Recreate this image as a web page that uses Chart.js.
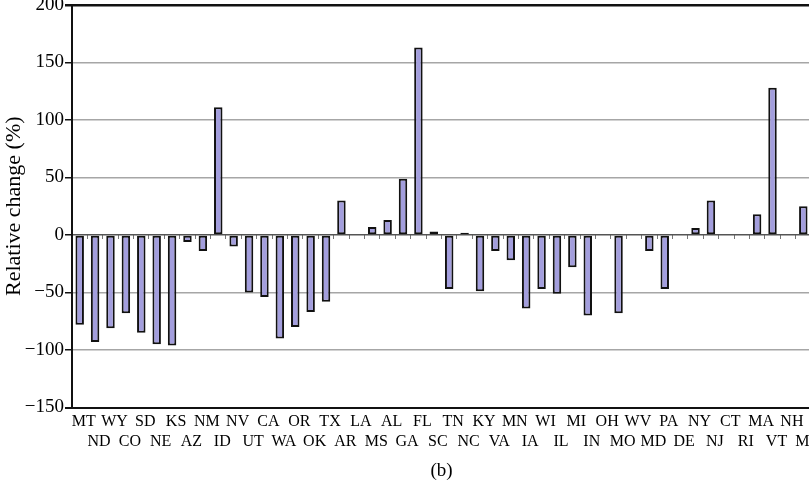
<!DOCTYPE html>
<html>
<head>
<meta charset="utf-8">
<script src="https://cdn.jsdelivr.net/npm/chart.js@4.4.1/dist/chart.umd.min.js"></script>
<style>
  html, body { margin: 0; padding: 0; background: #fff; overflow: hidden; width: 809px; height: 487px; }
  canvas { display: block; }
</style>
</head>
<body>
<canvas id="chart" width="830" height="487" style="width:830px;height:487px"></canvas>
<script>
// State abbreviations, in plotting order
const states = [
  'MT','ND','WY','CO','SD','NE','KS','AZ','NM','ID','NV','UT',
  'CA','WA','OR','OK','TX','AR','LA','MS','AL','GA','FL','SC',
  'TN','NC','KY','VA','MN','IA','WI','IL','MI','IN','OH','MO',
  'WV','MD','PA','DE','NY','NJ','CT','RI','MA','VT','NH','ME'
];

// Relative change (%) per state; null = no bar
const relativeChange = [
  -78, -93, -81, -68, -85, -95, -96, -6, -14, 111, -10, -50,
  -54, -90, -80, -67, -58, 30, null, 7, 13, 49, 163, 3,
  -47, 2, -49, -14, -22, -64, -47, -51, -28, -70, null, -68,
  null, -14, -47, null, 6, 30, null, null, 18, 128, null, 25
];

// Value axis range and tick spacing
const yMin = -150;
const yMax = 200;
const yStep = 50;

const serif = "'Liberation Serif', 'Times New Roman', serif";

new Chart(document.getElementById('chart'), {
  type: 'bar',
  data: {
    labels: states,
    datasets: [{
      data: relativeChange,
      backgroundColor: 'rgb(163,158,221)',
      borderColor: '#111',
      borderWidth: 2,
      borderSkipped: false,
      barPercentage: 0.55,
      categoryPercentage: 1.0
    }]
  },
  options: {
    responsive: false,
    animation: false,
    devicePixelRatio: 1,
    layout: { padding: { top: 5, right: 19, left: 0, bottom: 0 } },
    plugins: {
      legend: { display: false },
      tooltip: { enabled: false },
      title: {
        display: true,
        text: '(b)',
        position: 'bottom',
        fullSize: false,
        color: '#000',
        font: { family: serif, size: 19, weight: 'normal' },
        padding: { top: 4, bottom: 5 }
      }
    },
    scales: {
      x: {
        type: 'category',
        offset: true,
        grid: { display: false, drawTicks: false },
        border: { display: true, color: '#111', width: 2 },
        ticks: {
          autoSkip: false,
          maxRotation: 0,
          minRotation: 0,
          padding: 4,
          labelOffset: 4,
          color: '#000',
          font: { family: serif, size: 16, lineHeight: 1.25 },
          // alternate labels between two rows
          callback: function (value, index) {
            const s = this.getLabelForValue(value);
            return index % 2 === 0 ? [s, ''] : ['', s];
          }
        },
        afterFit: function (scale) {
          scale.height = 47.7;
          scale.paddingLeft = 0;
          scale.paddingRight = 0;
        }
      },
      // small tick marks along the zero line
      xzero: {
        type: 'category',
        axis: 'x',
        labels: states,
        position: { y: 0 },
        offset: true,
        ticks: { display: false },
        border: { display: false },
        grid: {
          drawOnChartArea: false,
          drawTicks: true,
          tickLength: 4,
          color: '#777',
          lineWidth: 1,
          offset: true
        }
      },
      y: {
        min: yMin,
        max: yMax,
        ticks: {
          stepSize: yStep,
          padding: 1,
          color: '#000',
          font: { family: serif, size: 19 },
          callback: v => (v < 0 ? '\u2212' + Math.abs(v) : String(v))
        },
        grid: {
          tickLength: 7,
          tickColor: '#111',
          color: ctx => {
            const v = ctx.tick ? ctx.tick.value : null;
            if (v === yMax || v === yMin) return '#111';
            if (v === 0) return '#555';
            return '#a6a6a6';
          },
          lineWidth: ctx => {
            const v = ctx.tick ? ctx.tick.value : null;
            if (v === yMax) return 2.5;
            if (v === yMin) return 2;
            return 1.5;
          }
        },
        border: { display: true, color: '#111', width: 2 },
        title: {
          display: true,
          text: 'Relative change (%)',
          color: '#000',
          font: { family: serif, size: 22 },
          padding: { top: 1, bottom: 0 }
        },
        afterFit: function (scale) {
          scale.width = 72;
          scale.paddingTop = 0;
          scale.paddingBottom = 0;
        }
      }
    }
  }
});
</script>
</body>
</html>
